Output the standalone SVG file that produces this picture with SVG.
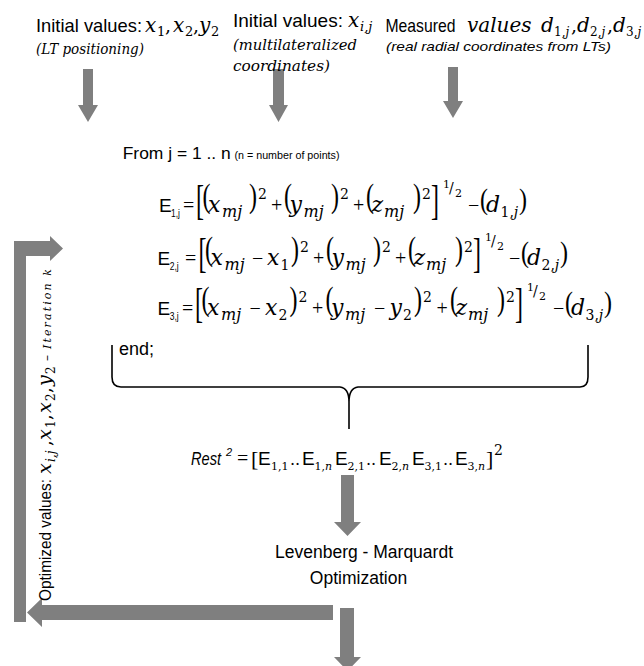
<svg xmlns="http://www.w3.org/2000/svg" width="644" height="666" viewBox="0 0 644 666">
<style>
text{fill:#000}
.s{font-family:"Liberation Sans",Arial,sans-serif}
.si{font-family:"Liberation Sans",Arial,sans-serif;font-style:italic}
.m{font-family:"DejaVu Serif",serif;font-style:italic}
.u{font-family:"DejaVu Serif",serif;font-style:normal}
.o{font-family:"Liberation Serif","Times New Roman",serif;font-style:normal}
.dl{font-family:"Liberation Serif","Times New Roman",serif;font-size:24px}
.arrow{fill:#7f7f7f}
.brace{fill:none;stroke:#000;stroke-width:1.6}
</style>
<rect width="644" height="666" fill="#fff"/>

<g id="connectors">
<polygon class="arrow" points="83,69 93,69 93,105 98,105 88,122 78,105 83,105"/>
<polygon class="arrow" points="273,69 284,69 284,105 288,105 278.5,122 269,105 273,105"/>
<polygon class="arrow" points="448,67 458,67 458,101 463,101 453,118 443,101 448,101"/>
<polygon class="arrow" points="341,475 354,475 354,522 361,522 347.5,536 334,522 341,522"/>
<polygon class="arrow" points="14,622 26,622 26,256 50,256 50,261 63,248.5 50,236 50,241 14,241"/>
<polygon class="arrow" points="333,605 333,620 42,620 42,627 27,612.5 42,598 42,605"/>
<polygon class="arrow" points="340,608 354,608 354,657 361,657 347.5,671 334,657 340,657"/>
<path class="brace" d="M112,345 L112,377 Q112,387 121,387 L340,387 Q349,388 349,402 L349,429 M349,402 Q349,388 358,387 L580,387 Q588,387 588,377 L588,345"/>
</g>

<g id="label-lt-positioning">
<text class="s" x="36" y="32" font-size="19" textLength="106" lengthAdjust="spacingAndGlyphs">Initial values:</text>
<text class="m" x="145" y="32" font-size="20">x</text><text class="u" x="157" y="36" font-size="13">1</text><text class="u" x="165" y="32" font-size="19">,</text>
<text class="m" x="173" y="32" font-size="20">x</text><text class="u" x="185" y="36" font-size="13">2</text><text class="u" x="193" y="32" font-size="19">,</text>
<text class="m" x="199" y="32" font-size="20">y</text><text class="u" x="211" y="36" font-size="13">2</text>
<text class="m" x="36" y="54" font-size="15" textLength="108" lengthAdjust="spacingAndGlyphs">(LT positioning)</text>
</g>

<g id="label-multilateralized">
<text class="s" x="233" y="27" font-size="19" textLength="110" lengthAdjust="spacingAndGlyphs">Initial values:</text>
<text class="m" x="348" y="27" font-size="20">x</text><text class="m" x="360" y="31" font-size="13">i,j</text>
<text class="m" x="233" y="50" font-size="15" textLength="124" lengthAdjust="spacingAndGlyphs">(multilateralized</text>
<text class="m" x="233" y="71" font-size="15" textLength="97" lengthAdjust="spacingAndGlyphs">coordinates)</text>
</g>

<g id="label-measured">
<text class="s" x="385.5" y="32" font-size="19" textLength="70" lengthAdjust="spacingAndGlyphs">Measured</text>
<text class="m" x="467" y="32" font-size="20">values</text>
<text class="m" x="541" y="32" font-size="20">d</text><text class="u" x="554" y="36" font-size="12">1,<tspan class="m">j</tspan></text><text class="u" x="571" y="32" font-size="19">,</text>
<text class="m" x="577" y="32" font-size="20">d</text><text class="u" x="590" y="36" font-size="12">2,<tspan class="m">j</tspan></text><text class="u" x="607" y="32" font-size="19">,</text>
<text class="m" x="613" y="32" font-size="20">d</text><text class="u" x="626" y="36" font-size="12">3,<tspan class="m">j</tspan></text>
<text class="si" x="386" y="51" font-size="13" textLength="225" lengthAdjust="spacingAndGlyphs">(real radial coordinates from LTs)</text>
</g>

<g id="loop-header">
<text class="s" x="122.7" y="159" font-size="17" textLength="108" lengthAdjust="spacingAndGlyphs">From j = 1 .. n</text>
<text class="s" x="234.5" y="159" font-size="10.5" textLength="105" lengthAdjust="spacingAndGlyphs">(n = number of points)</text>
</g>

<g id="eq-e1">
<text class="s" x="159" y="212" font-size="19">E</text><text class="s" x="171" y="217" font-size="11" textLength="9" lengthAdjust="spacingAndGlyphs">1,j</text>
<text class="o" x="183" y="212" font-size="20">=</text>
<text class="dl" transform="translate(196,213.5) scale(1,1.75)">[</text>
<text class="dl" transform="translate(202.5,207) scale(1,1.4)">(</text>
<text class="m" x="208" y="212" font-size="22">x</text><text class="m" x="222" y="217" font-size="16">mj</text>
<text class="dl" transform="translate(249,207) scale(1,1.4)">)</text><text class="u" x="258" y="199" font-size="14">2</text>
<text class="o" x="271" y="212" font-size="20">+</text>
<text class="dl" transform="translate(284,207) scale(1,1.4)">(</text>
<text class="m" x="289.5" y="212" font-size="22">y</text><text class="m" x="303.5" y="217" font-size="16">mj</text>
<text class="dl" transform="translate(331,207) scale(1,1.4)">)</text><text class="u" x="340" y="199" font-size="14">2</text>
<text class="o" x="353" y="212" font-size="20">+</text>
<text class="dl" transform="translate(366,207) scale(1,1.4)">(</text>
<text class="m" x="371.5" y="212" font-size="22">z</text><text class="m" x="384" y="217" font-size="16">mj</text>
<text class="dl" transform="translate(413,207) scale(1,1.4)">)</text><text class="u" x="422" y="199" font-size="14">2</text>
<text class="dl" transform="translate(431,213.5) scale(1,1.75)">]</text>
<text class="u" x="443" y="188" font-size="11">1</text><text class="u" x="449" y="193" font-size="14">/</text><text class="u" x="455" y="197" font-size="11">2</text>
<text class="o" x="468" y="212" font-size="20">−</text>
<text class="dl" transform="translate(480,209) scale(1,1.2)">(</text>
<text class="m" x="486" y="212" font-size="22">d</text><text class="u" x="500.5" y="217" font-size="14">1,<tspan class="m">j</tspan></text>
<text class="dl" transform="translate(519,209) scale(1,1.2)">)</text>
</g>

<g id="eq-e2">
<text class="s" x="157.5" y="265" font-size="19">E</text><text class="s" x="169.7" y="270" font-size="11" textLength="9" lengthAdjust="spacingAndGlyphs">2,j</text>
<text class="o" x="185" y="265" font-size="20">=</text>
<text class="dl" transform="translate(198.5,266.5) scale(1,1.75)">[</text>
<text class="dl" transform="translate(205,260) scale(1,1.4)">(</text>
<text class="m" x="210.5" y="265" font-size="22">x</text><text class="m" x="224.5" y="270" font-size="16">mj</text>
<text class="o" x="252" y="265" font-size="20">−</text>
<text class="m" x="267" y="265" font-size="22">x</text><text class="u" x="280.5" y="270" font-size="14">1</text>
<text class="dl" transform="translate(291,260) scale(1,1.4)">)</text><text class="u" x="300" y="252" font-size="14">2</text>
<text class="o" x="313" y="265" font-size="20">+</text>
<text class="dl" transform="translate(326,260) scale(1,1.4)">(</text>
<text class="m" x="331.5" y="265" font-size="22">y</text><text class="m" x="345.5" y="270" font-size="16">mj</text>
<text class="dl" transform="translate(373,260) scale(1,1.4)">)</text><text class="u" x="382" y="252" font-size="14">2</text>
<text class="o" x="395" y="265" font-size="20">+</text>
<text class="dl" transform="translate(408,260) scale(1,1.4)">(</text>
<text class="m" x="413.5" y="265" font-size="22">z</text><text class="m" x="426" y="270" font-size="16">mj</text>
<text class="dl" transform="translate(455,260) scale(1,1.4)">)</text><text class="u" x="464" y="252" font-size="14">2</text>
<text class="dl" transform="translate(473,266.5) scale(1,1.75)">]</text>
<text class="u" x="485" y="241" font-size="11">1</text><text class="u" x="491" y="246" font-size="14">/</text><text class="u" x="497" y="250" font-size="11">2</text>
<text class="o" x="509" y="265" font-size="20">−</text>
<text class="dl" transform="translate(521,262) scale(1,1.2)">(</text>
<text class="m" x="527" y="265" font-size="22">d</text><text class="u" x="541.5" y="270" font-size="14">2,<tspan class="m">j</tspan></text>
<text class="dl" transform="translate(560,262) scale(1,1.2)">)</text>
</g>

<g id="eq-e3">
<text class="s" x="157.5" y="315" font-size="19">E</text><text class="s" x="169.7" y="320" font-size="11" textLength="9" lengthAdjust="spacingAndGlyphs">3,j</text>
<text class="o" x="182" y="315" font-size="20">=</text>
<text class="dl" transform="translate(195,316.5) scale(1,1.75)">[</text>
<text class="dl" transform="translate(201.5,310) scale(1,1.4)">(</text>
<text class="m" x="207" y="315" font-size="22">x</text><text class="m" x="221" y="320" font-size="16">mj</text>
<text class="o" x="249.5" y="315" font-size="20">−</text>
<text class="m" x="265" y="315" font-size="22">x</text><text class="u" x="278.5" y="320" font-size="14">2</text>
<text class="dl" transform="translate(289.5,310) scale(1,1.4)">)</text><text class="u" x="298.5" y="302" font-size="14">2</text>
<text class="o" x="312" y="315" font-size="20">+</text>
<text class="dl" transform="translate(325.5,310) scale(1,1.4)">(</text>
<text class="m" x="331" y="315" font-size="22">y</text><text class="m" x="345" y="320" font-size="16">mj</text>
<text class="o" x="374" y="315" font-size="20">−</text>
<text class="m" x="389.5" y="315" font-size="22">y</text><text class="u" x="403" y="320" font-size="14">2</text>
<text class="dl" transform="translate(414,310) scale(1,1.4)">)</text><text class="u" x="423" y="302" font-size="14">2</text>
<text class="o" x="436.5" y="315" font-size="20">+</text>
<text class="dl" transform="translate(450,310) scale(1,1.4)">(</text>
<text class="m" x="455.5" y="315" font-size="22">z</text><text class="m" x="468" y="320" font-size="16">mj</text>
<text class="dl" transform="translate(497,310) scale(1,1.4)">)</text><text class="u" x="506" y="302" font-size="14">2</text>
<text class="dl" transform="translate(515,316.5) scale(1,1.75)">]</text>
<text class="u" x="527" y="291" font-size="11">1</text><text class="u" x="533" y="296" font-size="14">/</text><text class="u" x="539" y="300" font-size="11">2</text>
<text class="o" x="553" y="315" font-size="20">−</text>
<text class="dl" transform="translate(565,312) scale(1,1.2)">(</text>
<text class="m" x="571" y="315" font-size="22">d</text><text class="u" x="585.5" y="320" font-size="14">3,<tspan class="m">j</tspan></text>
<text class="dl" transform="translate(604,312) scale(1,1.2)">)</text>
</g>

<g id="loop-end">
<text class="s" x="119" y="355" font-size="18">end;</text>
</g>

<g id="eq-rest">
<text class="si" x="191" y="465" font-size="18" textLength="30" lengthAdjust="spacingAndGlyphs">Rest</text>
<text class="si" x="226" y="456" font-size="11">2</text>
<text class="o" x="237" y="465" font-size="20">=</text>
<text class="o" x="251" y="466" font-size="22">[</text>
<text class="s" x="258" y="465" font-size="19">E</text><text class="u" x="271" y="470" font-size="11">1,1</text><text class="u" x="290" y="465" font-size="16">..</text>
<text class="s" x="302" y="465" font-size="19">E</text><text class="u" x="314.5" y="470" font-size="11">1,<tspan class="m">n</tspan></text>
<text class="s" x="335" y="465" font-size="19">E</text><text class="u" x="347.5" y="470" font-size="11">2,1</text><text class="u" x="366" y="465" font-size="16">..</text>
<text class="s" x="379" y="465" font-size="19">E</text><text class="u" x="391.5" y="470" font-size="11">2,<tspan class="m">n</tspan></text>
<text class="s" x="412" y="465" font-size="19">E</text><text class="u" x="424.5" y="470" font-size="11">3,1</text><text class="u" x="443" y="465" font-size="16">..</text>
<text class="s" x="455" y="465" font-size="19">E</text><text class="u" x="467.5" y="470" font-size="11">3,<tspan class="m">n</tspan></text>
<text class="o" x="486" y="466" font-size="22">]</text>
<text class="u" x="494" y="455" font-size="14">2</text>
</g>

<g id="lm-optimization">
<text class="s" x="364" y="558" font-size="17.5" text-anchor="middle">Levenberg - Marquardt</text>
<text class="s" x="358.5" y="584" font-size="17.5" text-anchor="middle">Optimization</text>
</g>

<g id="label-optimized-values" transform="translate(51,601) rotate(-90)">
<text class="s" x="0" y="0" font-size="17" textLength="122" lengthAdjust="spacingAndGlyphs">Optimized values:</text>
<text class="m" x="127" y="0" font-size="19">x</text><text class="m" x="139" y="4" font-size="12">i,j</text><text class="u" x="155" y="0" font-size="18">,</text>
<text class="m" x="161" y="0" font-size="19">x</text><text class="u" x="173" y="4" font-size="12">1</text><text class="u" x="181" y="0" font-size="18">,</text>
<text class="m" x="188" y="0" font-size="19">x</text><text class="u" x="200" y="4" font-size="12">2</text><text class="u" x="208" y="0" font-size="18">,</text>
<text class="m" x="215" y="0" font-size="19">y</text><text class="u" x="227" y="4" font-size="12">2</text>
<text class="u" x="240" y="0" font-size="12">–</text>
<text class="m" x="252" y="0" font-size="11" textLength="80" lengthAdjust="spacing">Iteration k</text>
</g>
</svg>
